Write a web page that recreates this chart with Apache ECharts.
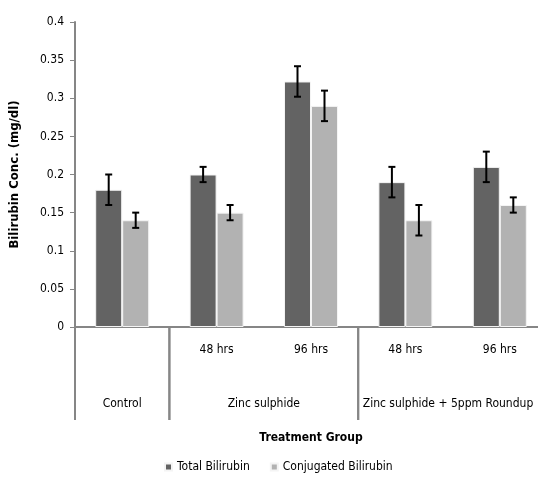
<!DOCTYPE html>
<html><head><meta charset="utf-8">
<script src="https://cdn.jsdelivr.net/npm/echarts@6/dist/echarts.min.js"></script>
<style>html,body{margin:0;padding:0;background:#fff;overflow:hidden;width:538px;height:488px}#c{width:570px;height:488px}</style>
</head><body><div id="c"></div>
<script>
var categories = ['', '48 hrs', '96 hrs', '48 hrs', '96 hrs'];
var groups = [[0, 0, 'Control'], [1, 2, 'Zinc sulphide'], [3, 4, 'Zinc sulphide + 5ppm Roundup']];
var totalBilirubin = [0.18, 0.20, 0.322, 0.19, 0.21];
var totalErr = [0.02, 0.01, 0.02, 0.02, 0.02];
var conjBilirubin = [0.14, 0.15, 0.29, 0.14, 0.16];
var conjErr = [0.01, 0.01, 0.02, 0.02, 0.01];
var seriesNames = ['Total Bilirubin', 'Conjugated Bilirubin'];
var yTicks = {min: 0, max: 0.4, interval: 0.05};

var FONT = '"Liberation Sans Narrow", "DejaVu Sans Condensed", "Open Sans", sans-serif';
var BW = 27;

function errData(vals, errs) {
  return vals.map(function (v, i) { return [i, v - errs[i], v + errs[i]]; });
}
function errRender(offset) {
  return function (params, api) {
    var c = api.coord([api.value(0), 0]);
    var x = c[0] + offset;
    var yl = api.coord([api.value(0), api.value(1)])[1];
    var yh = api.coord([api.value(0), api.value(2)])[1];
    var st = {stroke: '#000', lineWidth: 2};
    return {type: 'group', children: [
      {type: 'line', shape: {x1: x, y1: yl, x2: x, y2: yh}, style: st},
      {type: 'line', shape: {x1: x - 3.5, y1: yl, x2: x + 3.5, y2: yl}, style: st},
      {type: 'line', shape: {x1: x - 3.5, y1: yh, x2: x + 3.5, y2: yh}, style: st}
    ]};
  };
}

var chart = echarts.init(document.getElementById('c'));
chart.setOption({
  animation: false,
  textStyle: {fontFamily: FONT},
  grid: {left: 72, top: 22, right: 570 - 547, bottom: 488 - 327, containLabel: false},
  legend: {
    data: seriesNames, left: 159, top: 456, icon: 'rect', itemWidth: 7, itemHeight: 7,
    itemGap: 20, textStyle: {fontFamily: FONT, fontSize: 12, color: '#000'}
  },
  xAxis: {
    type: 'category', data: categories,
    name: 'Treatment Group', nameLocation: 'middle', nameGap: 105,
    nameTextStyle: {fontFamily: FONT, fontWeight: 'bold', fontSize: 12, color: '#000'},
    axisLine: {lineStyle: {color: '#868686', width: 2}},
    axisTick: {show: false},
    axisLabel: {margin: 17, fontSize: 12, color: '#000', fontFamily: FONT}
  },
  yAxis: {
    type: 'value', min: yTicks.min, max: yTicks.max, interval: yTicks.interval,
    name: 'Bilirubin Conc. (mg/dl)', nameLocation: 'middle', nameGap: 54, nameRotate: 90,
    nameTextStyle: {fontFamily: FONT, fontWeight: 'bold', fontSize: 13, color: '#000'},
    axisLine: {show: true, lineStyle: {color: '#868686', width: 2}},
    axisTick: {show: true, length: 5, lineStyle: {color: '#868686', width: 1}},
    axisLabel: {margin: 11, fontSize: 12, color: '#000', fontFamily: FONT},
    splitLine: {show: false}
  },
  series: [
    {name: seriesNames[0], type: 'bar', data: totalBilirubin, barWidth: BW, barGap: '0%',
      itemStyle: {color: '#636363', borderColor: '#f4f4f4', borderWidth: 1}},
    {name: seriesNames[1], type: 'bar', data: conjBilirubin, barWidth: BW, barGap: '0%',
      itemStyle: {color: '#b2b2b2', borderColor: '#f4f4f4', borderWidth: 1}},
    {type: 'custom', data: errData(totalBilirubin, totalErr), renderItem: errRender(-BW / 2), z: 5},
    {type: 'custom', data: errData(conjBilirubin, conjErr), renderItem: errRender(BW / 2), z: 5},
    {type: 'custom', data: groups, z: 5, clip: false,
      renderItem: function (params, api) {
        var s = api.value(0), e = api.value(1);
        var bw = api.size([1, 0])[0];
        var cs = api.coord([s, 0]), ce = api.coord([e, 0]);
        var left = cs[0] - bw / 2, right = ce[0] + bw / 2, y0 = cs[1];
        var st = {stroke: '#868686', lineWidth: 2};
        var cx = (left + right) / 2;
        if (right > 538) cx = Math.min(cx, 448);
        return {type: 'group', children: [
          {type: 'line', shape: {x1: left, y1: y0, x2: left, y2: y0 + 93}, style: st},
          {type: 'line', shape: {x1: right, y1: y0, x2: right, y2: y0 + 93}, style: st},
          {type: 'text', style: {text: groups[params.dataIndex][2], x: cx, y: y0 + 77,
            align: 'center', verticalAlign: 'middle', fontSize: 12, fontFamily: FONT, fill: '#000'}}
        ]};
      }}
  ]
});
</script></body></html>
